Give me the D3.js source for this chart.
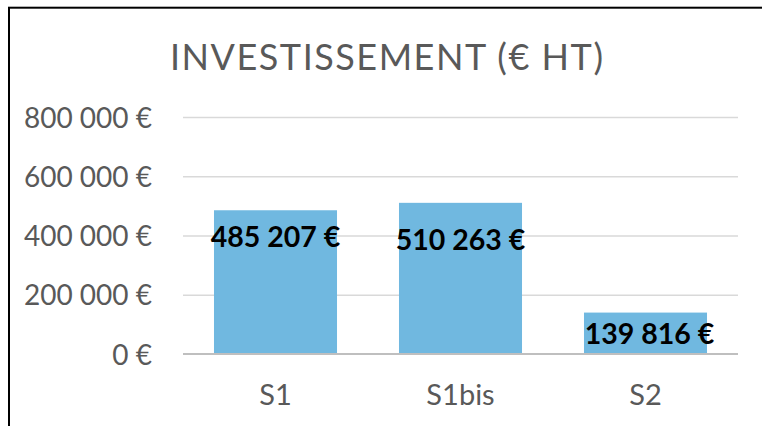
<!DOCTYPE html>
<html>
<head>
<meta charset="utf-8">
<script src="https://cdn.jsdelivr.net/npm/d3@7"></script>
<style>
  html, body { margin: 0; padding: 0; background: #fff; }
  svg { display: block; }
</style>
</head>
<body>
<svg id="chart" width="762" height="426"></svg>
<script>
// Investment per scenario, in euros excluding tax
const categories = ["S1", "S1bis", "S2"];
const values = [485207, 510263, 139816];
const tickValues = [0, 200000, 400000, 600000, 800000];
const titleText = "INVESTISSEMENT (€ HT)";

// Manual nudges of each value label relative to its bar (px)
const labelDx = [0, 0, 4];
const labelDy = [37, 47, 31];

const W = 762, H = 426;
const plot = { left: 183, right: 738, top: 117, bottom: 354 };
const font = "Lato, 'Open Sans', 'DejaVu Sans', sans-serif";

const svg = d3.select("#chart");

svg.append("rect").attr("width", W).attr("height", H).attr("fill", "#fff");

// Frame: only top and left edges fall inside the view
svg.append("rect")
  .attr("x", 9).attr("y", 7.7)
  .attr("width", 900).attr("height", 600)
  .attr("fill", "none")
  .attr("stroke", "#000")
  .attr("stroke-width", 2);

const x = d3.scaleBand()
  .domain(categories)
  .range([plot.left, plot.right])
  .paddingInner(0.335)
  .paddingOuter(0.1675);

const y = d3.scaleLinear()
  .domain([0, 800000])
  .range([plot.bottom, plot.top]);

const fmt = v => d3.format(",.0f")(v).replace(/,/g, " ") + " €";

// Title
svg.append("text")
  .attr("x", 386.5).attr("y", 70)
  .attr("text-anchor", "middle")
  .attr("font-family", font)
  .attr("font-weight", 400)
  .attr("font-size", 36)
  .attr("fill", "#595959")
  .attr("textLength", 433)
  .attr("lengthAdjust", "spacing")
  .text(titleText);

// Gridlines and value axis
const yAxis = d3.axisLeft(y)
  .tickValues(tickValues)
  .tickSize(-(plot.right - plot.left))
  .tickPadding(31)
  .tickFormat(fmt);

const gy = svg.append("g")
  .attr("transform", `translate(${plot.left},0)`)
  .call(yAxis);
gy.select(".domain").remove();
gy.selectAll(".tick line")
  .attr("stroke", d => d === 0 ? "none" : "#d9d9d9")
  .attr("stroke-width", 1.5);
gy.selectAll(".tick text")
  .attr("font-family", font)
  .attr("font-size", 28)
  .attr("fill", "#595959")
  .attr("dy", "0.36em");

// Bars
svg.append("g").selectAll("rect")
  .data(values)
  .join("rect")
  .attr("x", (d, i) => x(categories[i]))
  .attr("y", d => y(d))
  .attr("width", x.bandwidth())
  .attr("height", d => y(0) - y(d))
  .attr("fill", "#70b8e0");

// Category axis baseline and labels
const xAxis = d3.axisBottom(x).tickSize(0).tickPadding(30);
const gx = svg.append("g")
  .attr("transform", `translate(0,${plot.bottom})`)
  .call(xAxis);
gx.select(".domain").remove();
gx.selectAll(".tick text")
  .attr("font-family", font)
  .attr("font-size", 29)
  .attr("fill", "#595959");

svg.append("line")
  .attr("x1", plot.left).attr("x2", plot.right)
  .attr("y1", y(0)).attr("y2", y(0))
  .attr("stroke", "#bfbfbf")
  .attr("stroke-width", 2);

// Value labels
svg.append("g").selectAll("text")
  .data(values)
  .join("text")
  .attr("x", (d, i) => x(categories[i]) + x.bandwidth() / 2 + labelDx[i])
  .attr("y", (d, i) => y(d) + labelDy[i])
  .attr("text-anchor", "middle")
  .attr("font-family", font)
  .attr("font-weight", 700)
  .attr("font-size", 28.5)
  .attr("fill", "#000")
  .text(fmt);
</script>
</body>
</html>
